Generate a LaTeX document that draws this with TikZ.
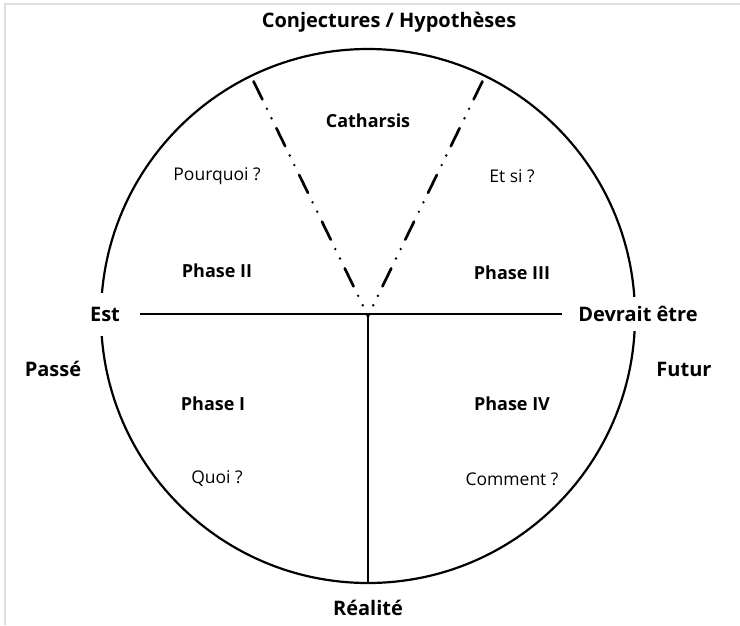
\documentclass[tikz,border=0pt]{standalone}
\usepackage{fontspec}
\setmainfont{Open Sans}
\tikzset{
  axislabel/.style={font=\bfseries\fontsize{20}{24}\selectfont},
  phase/.style={font=\bfseries\fontsize{18}{22}\selectfont},
  question/.style={font=\fontsize{17.5}{21}\selectfont},
  gaplabel/.style={axislabel, fill=white, inner xsep=2pt},
  dashdotdot/.style={line width=2.7pt, line cap=round,
    dash pattern=on 20pt off 10.5pt on 0pt off 10.5pt on 0pt off 11pt, dash phase=46pt}
}
\begin{document}
\begin{tikzpicture}[x=1pt, y=-1pt, line width=2.2pt]
  \useasboundingbox (0,0) rectangle (740,625);
  % frame of the page
  \draw[black!13, line width=2pt] (5,625) -- (5,4) -- (740,4);

  % circle and axes
  \coordinate (O) at (368,316);
  \draw (O) circle[radius=267];
  \path (O) ++(0,267) coordinate (bottom);
  \path (O) ++(-116:267) coordinate (left ray);
  \path (O) ++(-64:267) coordinate (right ray);

  \node[axislabel] (conj) at (389,22) {Conjectures / Hypothèses};
  \node[phase] (cath) at (368,121) {Catharsis};
  \node[question] (why) at (217,176) {Pourquoi ?};
  \node[question] (whatif) at (512,176) {Et si ?};
  \node[phase] (p2) at (217,271) {Phase II};
  \node[phase] (p3) at (512,273) {Phase III};
  \node[gaplabel, minimum height=43pt] (est) at (105,314) {Est};
  \node[gaplabel, minimum height=34pt] (devrait) at (638,314) {Devrait être};
  \node[axislabel] (passe) at (53,369) {Passé};
  \node[axislabel] (futur) at (684,369) {Futur};
  \node[phase] (p1) at (213,404) {Phase I};
  \node[phase] (p4) at (512,404) {Phase IV};
  \node[question] (quoi) at (217,479) {Quoi ?};
  \node[question] (comment) at (512,479) {Comment ?};
  \node[axislabel] (real) at (368,608) {Réalité};

  \draw (est.east -| 140,0) -- (devrait.west -| 562,0);
  \draw (O) -- (bottom);
  \draw[dashdotdot] (left ray) -- (O);
  \draw[dashdotdot] (right ray) -- (O);
\end{tikzpicture}
\end{document}
